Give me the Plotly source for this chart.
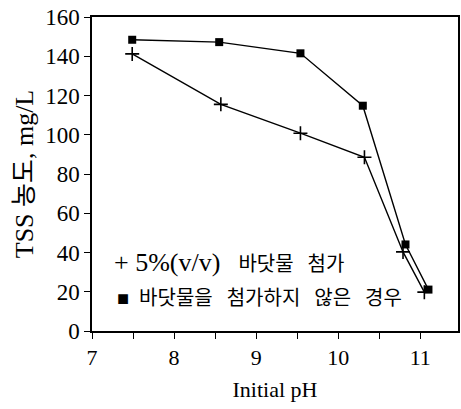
import plotly.graph_objects as go

# Initial pH and TSS concentration (mg/L)
ph_with = [7.49, 8.57, 9.54, 10.32, 10.79, 11.05]
tss_with = [141.2, 115.5, 100.8, 88.5, 40.3, 19.8]

ph_without = [7.49, 8.55, 9.54, 10.30, 10.82, 11.10]
tss_without = [148.4, 147.2, 141.5, 114.8, 44.1, 21.1]

x_ticks = [7, 8, 9, 10, 11]
y_ticks = [0, 20, 40, 60, 80, 100, 120, 140, 160]

FONT = "Liberation Serif, Noto Sans CJK KR, serif"
SP = "\u2002\u2009"  # wider word gap for Korean text

label_with = (
    '<span style="font-size:26px">+ 5%(v/v)</span>' + "\u2002\u2009\u2009"
    + "바닷물" + SP + "첨가"
)
label_without = (
    "■\u2002" + "바닷물을" + SP + "첨가하지" + SP + "않은" + SP + "경우"
)

fig = go.Figure()
fig.add_trace(go.Scatter(
    x=ph_with, y=tss_with, mode="lines+markers",
    line=dict(color="black", width=1.4),
    marker=dict(symbol="cross-thin", size=10, color="black",
                line=dict(color="black", width=1.6)),
    showlegend=False,
))
fig.add_trace(go.Scatter(
    x=ph_without, y=tss_without, mode="lines+markers",
    line=dict(color="black", width=1.4),
    marker=dict(symbol="square", size=8, color="black"),
    showlegend=False,
))

# Legend entries written as text inside the plot
fig.add_annotation(x=0.054, y=0.217, xref="paper", yref="paper",
                   text=label_with, showarrow=False, xanchor="left",
                   yanchor="middle", font=dict(family=FONT, size=20, color="black"))
fig.add_annotation(x=0.0625, y=0.105, xref="paper", yref="paper",
                   text=label_without, showarrow=False, xanchor="left",
                   yanchor="middle", font=dict(family=FONT, size=20, color="black"))

axis_common = dict(
    showgrid=False, zeroline=False, showline=True, linecolor="black",
    linewidth=1.5, mirror=True, ticks="outside", ticklen=6, tickwidth=1.3,
    tickcolor="black",
)

fig.update_xaxes(
    range=[7, 11.46], tickvals=x_ticks,
    tickfont=dict(family=FONT, size=22, color="black"),
    minor=dict(dtick=0.5, tick0=7, ticks="outside", ticklen=6, tickwidth=1.3,
               tickcolor="black"),
    title=dict(text="Initial pH", font=dict(family=FONT, size=22, color="black"),
               standoff=12),
    **axis_common,
)
fig.update_yaxes(
    range=[0, 160], tickvals=y_ticks,
    tickfont=dict(family=FONT, size=23, color="black"),
    title=dict(text="TSS 농도, mg/L", font=dict(family=FONT, size=26, color="black"),
               standoff=4),
    **axis_common,
)

fig.update_layout(
    width=461, height=409,
    margin=dict(l=92, r=1, t=17, b=78),
    paper_bgcolor="white", plot_bgcolor="white",
    font=dict(family=FONT, color="black"),
)

fig.write_html("out.html")
